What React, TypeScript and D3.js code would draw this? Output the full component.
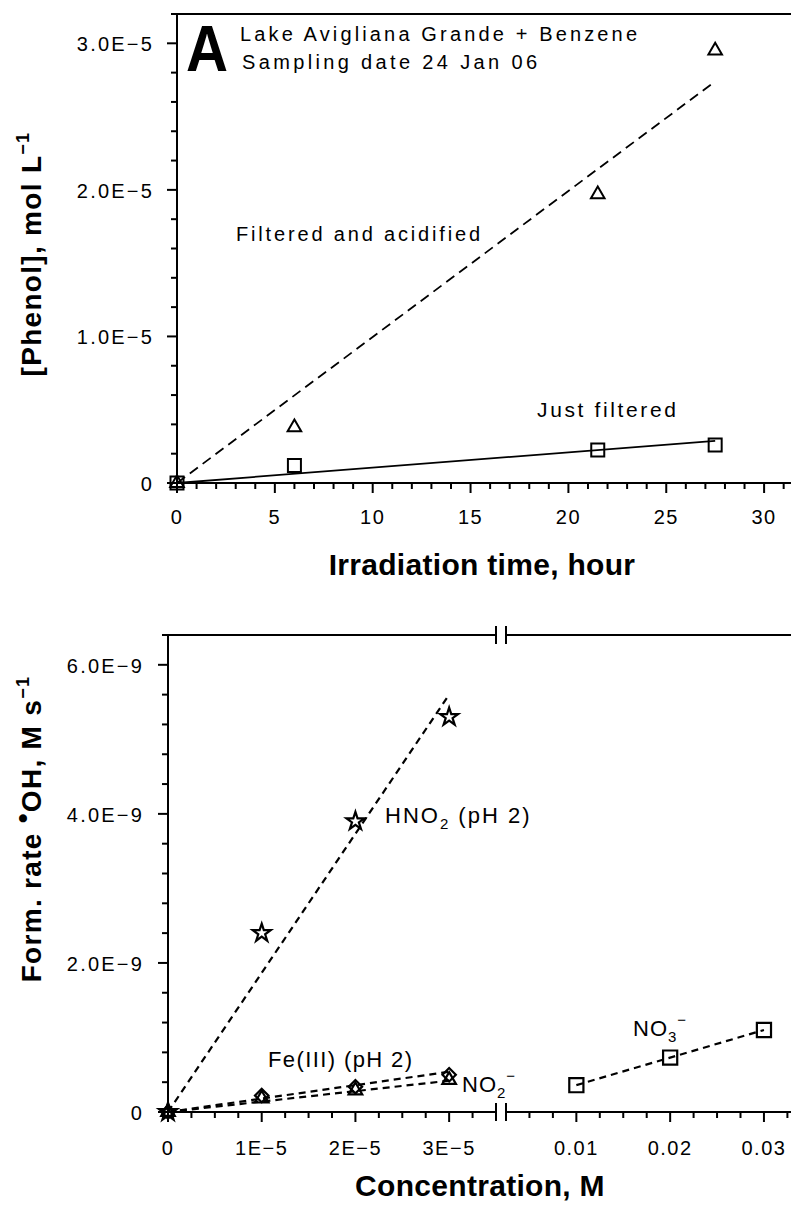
import * as d3 from 'd3';

// ---- panel A data ----
const hours = [0, 6, 21.5, 27.5];
const phenolAcidified = [0, 3.8e-6, 1.97e-5, 2.95e-5];
const phenolFiltered = [0, 1.2e-6, 2.25e-6, 2.6e-6];
const acidFit = [[0, 0], [27.5, 2.74e-5]];
const filteredFit = [[0, 0], [27.5, 2.88e-6]];
const topXTicks = [0, 5, 10, 15, 20, 25, 30];
const topXMinor = d3.range(0, 32, 1);
const topYTicks = [0, 1e-5, 2e-5, 3e-5];
const topYLabels = ['0', '1.0E\u22125', '2.0E\u22125', '3.0E\u22125'];
const topYMinor = d3.range(0, 3.21e-5, 0.2e-5);

// ---- panel B data ----
const concLow = [0, 1e-5, 2e-5, 3e-5];
const hno2Rate = [0, 2.4e-9, 3.9e-9, 5.3e-9];
const fe3Rate = [0, 0.22e-9, 0.34e-9, 0.5e-9];
const no2Rate = [0, 0.18e-9, 0.29e-9, 0.43e-9];
const hno2Fit = [[0, 0], [3e-5, 5.6e-9]];
const fe3Fit = [[0, 0], [3e-5, 0.54e-9]];
const no2Fit = [[0, 0], [3e-5, 0.42e-9]];
const concHigh = [0.01, 0.02, 0.03];
const no3Rate = [0.36e-9, 0.73e-9, 1.1e-9];
const lowTicks = [0, 1e-5, 2e-5, 3e-5];
const lowLabels = ['0', '1E\u22125', '2E\u22125', '3E\u22125'];
const lowMinor = d3.range(0, 3.3e-5, 0.25e-5);
const highTicks = [0.01, 0.02, 0.03];
const highLabels = ['0.01', '0.02', '0.03'];
const highMinor = d3.range(0.005, 0.0351, 0.0025);
const botYTicks = [0, 2e-9, 4e-9, 6e-9];
const botYLabels = ['0', '2.0E\u22129', '4.0E\u22129', '6.0E\u22129'];
const botYMinor = d3.range(0, 6.41e-9, 0.4e-9);

const FONT = '"Liberation Sans", Arial, Helvetica, sans-serif';
const W = 791;
const H = 1215;

const triPath = d3.symbol(d3.symbolTriangle, 80)();
const sqPath = d3.symbol(d3.symbolSquare, 169)();
const sqBig = d3.symbol(d3.symbolSquare, 200)();
const starPath = d3.symbol(d3.symbolStar, 100)();
const diaPath = d3.symbol(d3.symbolSquare, 90)();

export default function App() {
  // panel A scales
  const xA = d3.scaleLinear().domain([0, 32]).range([177, 177 + 32 * 19.57]);
  const yA = d3.scaleLinear().domain([0, 3.2e-5]).range([483, 14]);
  // panel B scales (broken x axis)
  const xL = d3.scaleLinear().domain([0, 3.5e-5]).range([168, 496]);
  const xR = d3.scaleLinear().domain([0.0025, 0.035]).range([506, 506 + 0.0325 * 9380]);
  const yB = d3.scaleLinear().domain([0, 6.4e-9]).range([1112, 635]);

  const lineA = d3.line<number[]>().x((d) => xA(d[0])).y((d) => yA(d[1]));
  const lineL = d3.line<number[]>().x((d) => xL(d[0])).y((d) => yB(d[1]));
  const lineR = d3.line<number[]>().x((d) => xR(d[0])).y((d) => yB(d[1]));

  const txt = { fontFamily: FONT, fill: '#000' };

  return (
    <svg width={W} height={H} style={{ position: 'absolute', left: 0, top: 0, background: '#fff' }}>
      <rect width={W} height={H} fill="#fff" />

      {/* ===== Panel A ===== */}
      <g stroke="#000" strokeWidth={2} fill="none">
        <line x1={xA(0)} x2={W} y1={yA(3.2e-5)} y2={yA(3.2e-5)} />
        <line x1={xA(0)} x2={xA(0)} y1={yA(3.2e-5) - 1} y2={yA(0)} />
        <line x1={xA(0)} x2={W} y1={yA(0)} y2={yA(0)} />
        {topXMinor.map((t) => (
          <line key={'xm' + t} x1={xA(t)} x2={xA(t)} y1={yA(0)} y2={yA(0) + (t % 5 === 0 ? 10 : 6)} />
        ))}
        {topYMinor.map((t, i) => (
          <line key={'ym' + i} x1={xA(0) - (i % 5 === 0 ? 10 : 6)} x2={xA(0)} y1={yA(t)} y2={yA(t)} />
        ))}
      </g>
      {topXTicks.map((t) => (
        <text key={'xt' + t} x={xA(t)} y={524} textAnchor="middle" fontSize={20} letterSpacing={1.5} {...txt}>
          {t}
        </text>
      ))}
      {topYTicks.map((t, i) => (
        <text key={'yt' + i} x={154} y={yA(t) + 8} textAnchor="end" fontSize={20} letterSpacing={2.2} {...txt}>
          {topYLabels[i]}
        </text>
      ))}
      <text x={482} y={575} textAnchor="middle" fontSize={30} fontWeight="bold" letterSpacing={0.3} {...txt}>
        Irradiation time, hour
      </text>
      <text transform="translate(41,254) rotate(-90)" textAnchor="middle" fontSize={28} fontWeight="bold" letterSpacing={1.3} {...txt}>
        [Phenol], mol L<tspan dy={-12} fontSize={18}>{'\u22121'}</tspan>
      </text>

      <path d={lineA(acidFit) || ''} stroke="#000" strokeWidth={1.8} strokeDasharray="10 6" fill="none" />
      <path d={lineA(filteredFit) || ''} stroke="#000" strokeWidth={1.8} fill="none" />
      {hours.map((h, i) => (
        <path key={'ta' + i} d={triPath || ''} transform={`translate(${xA(h)},${yA(phenolAcidified[i])})`} fill="none" stroke="#000" strokeWidth={2} />
      ))}
      {hours.map((h, i) => (
        <path key={'sq' + i} d={sqPath || ''} transform={`translate(${xA(h)},${yA(phenolFiltered[i])})`} fill="none" stroke="#000" strokeWidth={2} />
      ))}

      <text x={186} y={71} fontSize={64} fontWeight="bold" textLength={42} lengthAdjust="spacingAndGlyphs" {...txt}>A</text>
      <text x={240} y={41} fontSize={20} textLength={397} lengthAdjust="spacing" {...txt}>Lake Avigliana Grande + Benzene</text>
      <text x={242} y={69} fontSize={20} textLength={295} lengthAdjust="spacing" {...txt}>Sampling date 24 Jan 06</text>
      <text x={236} y={241} fontSize={20} textLength={244} lengthAdjust="spacing" {...txt}>Filtered and acidified</text>
      <text x={537} y={417} fontSize={21} textLength={139} lengthAdjust="spacing" {...txt}>Just filtered</text>

      {/* ===== Panel B ===== */}
      <g stroke="#000" strokeWidth={2} fill="none">
        <line x1={xL(0)} x2={xL(3.5e-5)} y1={yB(6.4e-9)} y2={yB(6.4e-9)} />
        <line x1={xR(0.0025)} x2={W} y1={yB(6.4e-9)} y2={yB(6.4e-9)} />
        <line x1={xL(0)} x2={xL(0)} y1={yB(6.4e-9) - 1} y2={yB(0)} />
        <line x1={xL(0)} x2={xL(3.5e-5)} y1={yB(0)} y2={yB(0)} />
        <line x1={xR(0.0025)} x2={W} y1={yB(0)} y2={yB(0)} />
        {[xL(3.5e-5), xR(0.0025)].map((x, i) => (
          <g key={'br' + i}>
            <line x1={x} x2={x} y1={yB(6.4e-9) - 9} y2={yB(6.4e-9) + 9} />
            <line x1={x} x2={x} y1={yB(0) - 9} y2={yB(0) + 9} />
          </g>
        ))}
        {lowMinor.map((t, i) => (
          <line key={'lm' + i} x1={xL(t)} x2={xL(t)} y1={yB(0)} y2={yB(0) + (i % 4 === 0 ? 10 : 6)} />
        ))}
        {highMinor.map((t, i) => (
          <line key={'hm' + i} x1={xR(t)} x2={xR(t)} y1={yB(0)} y2={yB(0) + ((i + 2) % 4 === 0 ? 10 : 6)} />
        ))}
        {botYMinor.map((t, i) => (
          <line key={'bm' + i} x1={xL(0) - (i % 5 === 0 ? 10 : 6)} x2={xL(0)} y1={yB(t)} y2={yB(t)} />
        ))}
      </g>
      {lowTicks.map((t, i) => (
        <text key={'lt' + i} x={xL(t)} y={1155} textAnchor="middle" fontSize={20} letterSpacing={1.5} {...txt}>
          {lowLabels[i]}
        </text>
      ))}
      {highTicks.map((t, i) => (
        <text key={'ht' + i} x={xR(t)} y={1155} textAnchor="middle" fontSize={20} letterSpacing={1.5} {...txt}>
          {highLabels[i]}
        </text>
      ))}
      {botYTicks.map((t, i) => (
        <text key={'bt' + i} x={144} y={yB(t) + 8} textAnchor="end" fontSize={20} letterSpacing={2.2} {...txt}>
          {botYLabels[i]}
        </text>
      ))}
      <text x={480} y={1196} textAnchor="middle" fontSize={30} fontWeight="bold" letterSpacing={0.3} {...txt}>
        Concentration, M
      </text>
      <text transform="translate(41,829) rotate(-90)" textAnchor="middle" fontSize={28} fontWeight="bold" letterSpacing={1.3} {...txt}>
        Form. rate <tspan dy={-9}>{'\u2022'}</tspan>
        <tspan dy={9}>OH, M s</tspan>
        <tspan dy={-12} fontSize={18}>{'\u22121'}</tspan>
      </text>

      <g stroke="#000" strokeWidth={2.2} strokeDasharray="7 5" fill="none">
        <path d={lineL(hno2Fit) || ''} />
        <path d={lineL(fe3Fit) || ''} />
        <path d={lineL(no2Fit) || ''} />
        <path d={lineR(concHigh.map((c, i) => [c, no3Rate[i]])) || ''} />
      </g>
      <g fill="none" stroke="#000" strokeWidth={2.2}>
        {concLow.map((c, i) => (
          <path key={'st' + i} d={starPath || ''} transform={`translate(${xL(c)},${yB(hno2Rate[i])})`} />
        ))}
        {concLow.map((c, i) => (
          <path key={'di' + i} d={diaPath || ''} transform={`translate(${xL(c)},${yB(fe3Rate[i])}) rotate(45)`} />
        ))}
        {concLow.map((c, i) => (
          <path key={'tr' + i} d={triPath || ''} transform={`translate(${xL(c)},${yB(no2Rate[i])})`} />
        ))}
        {concHigh.map((c, i) => (
          <path key={'n3' + i} d={sqBig || ''} transform={`translate(${xR(c)},${yB(no3Rate[i])})`} />
        ))}
      </g>

      <text x={385} y={823} fontSize={22} letterSpacing={2} {...txt}>
        HNO<tspan dy={6} fontSize={15}>2</tspan>
        <tspan dy={-6}> (pH 2)</tspan>
      </text>
      <text x={268} y={1067} fontSize={22} textLength={144} lengthAdjust="spacing" {...txt}>Fe(III) (pH 2)</text>
      <text x={462} y={1092} fontSize={22} letterSpacing={1} {...txt}>
        NO<tspan dy={6} fontSize={15}>2</tspan>
        <tspan dy={-17} fontSize={15}>{'\u2212'}</tspan>
      </text>
      <text x={633} y={1036} fontSize={22} letterSpacing={1} {...txt}>
        NO<tspan dy={6} fontSize={15}>3</tspan>
        <tspan dy={-17} fontSize={15}>{'\u2212'}</tspan>
      </text>
    </svg>
  );
}
